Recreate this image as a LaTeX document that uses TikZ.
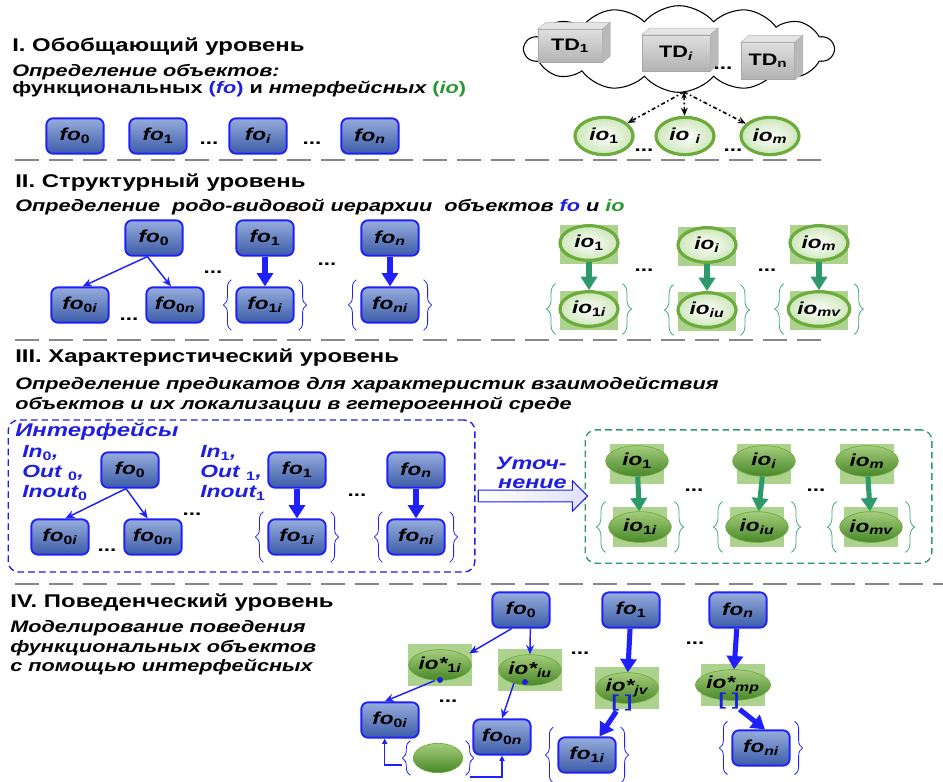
\documentclass[tikz,border=0pt]{standalone}
\usepackage{fontspec}
\setmainfont{Liberation Sans}[FakeStretch=1.3]
\usetikzlibrary{shapes.geometric,shapes.symbols,shapes.arrows,arrows.meta,decorations.pathreplacing,calc}
\definecolor{foline}{RGB}{32,32,250}
\definecolor{fotop}{RGB}{150,172,220}
\definecolor{fobot}{RGB}{60,92,168}
\definecolor{fotext}{RGB}{30,30,225}
\definecolor{iotext}{RGB}{40,150,50}
\definecolor{ioline}{RGB}{108,172,60}
\definecolor{iolight}{RGB}{205,230,185}
\definecolor{iosqc}{RGB}{172,210,142}
\definecolor{iotop}{RGB}{165,205,125}
\definecolor{iobot}{RGB}{72,135,40}
\definecolor{gnarr}{RGB}{46,154,108}
\definecolor{gnbrace}{RGB}{60,170,120}
\definecolor{sepgray}{RGB}{135,135,135}
\tikzset{
  title/.style={anchor=west, inner sep=0pt, font=\fontsize{13.8}{16}\selectfont\bfseries},
  subtitle/.style={anchor=west, inner sep=0pt, align=left, font=\fontsize{12.5}{14}\selectfont\bfseries\itshape},
  bluetext/.style={anchor=west, inner sep=0pt, align=left, text=fotext, font=\fontsize{13.2}{15}\selectfont\bfseries\itshape},
  fobox/.style={rectangle, rounded corners=5pt, draw=foline, line width=1.4pt, top color=fotop, bottom color=fobot, minimum width=43pt, minimum height=26.5pt, inner sep=1pt, font=\fontsize{13}{14}\selectfont\bfseries\itshape},
  ioring/.style={ellipse, draw=ioline, line width=2.4pt, inner color=white, outer color=iolight, minimum width=43.5pt, minimum height=26pt, inner sep=0pt, font=\fontsize{13}{14}\selectfont\bfseries\itshape},
  iofill/.style={ellipse, draw=ioline, line width=0.5pt, top color=iotop, bottom color=iobot, minimum width=47pt, minimum height=23pt, inner sep=0pt, font=\fontsize{13}{14}\selectfont\bfseries\itshape},
  iosq/.style={rectangle, fill=iosqc, minimum width=44pt, minimum height=29pt, inner sep=0pt},
  tdfront/.style={rectangle, draw=gray!70, line width=0.4pt, top color=gray!25, bottom color=gray!60, inner sep=0pt, font=\fontsize{12.5}{13}\selectfont\bfseries},
  dots/.style={inner sep=0pt, font=\fontsize{13}{13}\selectfont\bfseries},
  thinarr/.style={foline, line width=1.1pt, -{Stealth[length=7pt,width=6pt]}},
  smallarr/.style={foline, line width=0.8pt, -{Triangle[length=4pt,width=4pt]}},
  fatarr/.style={foline, line width=3.8pt, -{Triangle[length=10pt,width=12pt]}},
  greenarr/.style={gnarr, line width=3.8pt, -{Triangle[length=10pt,width=12pt]}},
  tdarr/.style={black, line width=1.2pt, dash dot, -{Stealth[length=6pt,width=5pt]}},
  fobrace/.style={foline, line width=0.6pt, decorate, decoration={brace, amplitude=6pt}},
  iobrace/.style={gnbrace, line width=0.6pt, decorate, decoration={brace, amplitude=7pt}},
  sepline/.style={sepgray, line width=2.2pt, dash pattern=on 18pt off 7.5pt},
  framebox/.style={rectangle, rounded corners=8pt, line width=1pt, dash pattern=on 5pt off 3pt}
}
\newcommand{\fonode}[4]{\node[fobox] (#1) at (#2,#3) {#4};}
\newcommand{\iosqnode}[6]{\node[iosq, #2] at (#4,#5) {}; \node[#1] (#3) at (#4,#5) {#6};}
\newcommand{\bracepair}[4]{%
  \draw[#1] ([xshift=-#4,yshift=-#3]#2.west) -- ([xshift=-#4,yshift=#3]#2.west);
  \draw[#1] ([xshift=#4,yshift=#3]#2.east) -- ([xshift=#4,yshift=-#3]#2.east);}
\newcommand{\tdbox}[6]{%
  \node[tdfront, minimum width=#4, minimum height=#5] (#1) at (#2,#3) {#6};
  \filldraw[fill=gray!20, draw=gray!60, line width=0.3pt] (#1.north west) -- ++(6pt,5pt) -- ([shift={(6pt,5pt)}]#1.north east) -- (#1.north east) -- cycle;
  \filldraw[fill=gray!55, draw=gray!60, line width=0.3pt] (#1.north east) -- ++(6pt,5pt) -- ([shift={(6pt,5pt)}]#1.south east) -- (#1.south east) -- cycle;}
\begin{document}
\begin{tikzpicture}[x=0.75pt,y=-0.75pt]
\useasboundingbox (0,0) rectangle (943,782);
% level I
\node[title] (t1) at (12,47) {I. Обобщающий уровень};
\node[subtitle, font=\fontsize{12.5}{12.75}\selectfont\bfseries\itshape] (s1) at (12,81) {Определение объектов:\\\textup{функциональных} \textcolor{fotext}{\textup{(}fo\textup{)}} \textup{и} нтерфейсных \textcolor{iotext}{\textup{(}io\textup{)}}};
\fonode{fa0}{75}{136}{fo\textsubscript{\upshape 0}}
\fonode{fa1}{158}{136}{fo\textsubscript{\upshape 1}}
\fonode{fai}{258}{136}{fo\textsubscript{i}}
\fonode{fan}{370}{136}{fo\textsubscript{n}}
\node[dots] (da1) at (209,143) {...};
\node[dots] (da2) at (312,143) {...};
% cloud
\node[cloud, cloud puffs=14, cloud puff arc=100, cloud ignores aspect, draw, line width=0.8pt, fill=white, minimum width=232pt, minimum height=65pt] (cloud) at (679,49) {};
\tdbox{td1}{570}{46}{48pt}{25pt}{TD\textsubscript{\upshape 1}}
\tdbox{tdi}{676}{53}{51pt}{27pt}{TD\textsubscript{\itshape i}}
\tdbox{tdn}{768}{61}{40pt}{28pt}{TD\textsubscript{\upshape n}}
\node[dots] (dc) at (723,68) {...};
\coordinate (cb) at (684,92);
\node[ioring, minimum height=28pt] (ia1) at (604,136) {io\textsubscript{\upshape 1}};
\node[ioring, minimum height=28pt] (iai) at (685,136) {io \textsubscript{i}};
\node[ioring, minimum height=28pt] (iam) at (770,136) {io\textsubscript{m}};
\draw[tdarr] (cb) -- (ia1);
\draw[tdarr, {Stealth[length=5pt,width=4pt]}-{Stealth[length=6pt,width=5pt]}] (cb) -- (iai);
\draw[tdarr] (cb) -- (iam);
\node[dots] (db1) at (644,150) {...};
\node[dots] (db2) at (733,150) {...};
\draw[sepline] (15,160) -- (825,160);
% level II
\node[title] (t2) at (15,183) {II. Структурный уровень};
\node[subtitle] (s2) at (15,207) {Определение \ родо-видовой иерархии \ объектов \textcolor{fotext}{fo} и \textcolor{iotext}{io}};
\fonode{fb0}{154}{238}{fo\textsubscript{\upshape 0}}
\fonode{fb1}{265}{238}{fo\textsubscript{\upshape 1}}
\fonode{fbn}{390}{238}{fo\textsubscript{n}}
\fonode{fb0i}{80}{305}{fo\textsubscript{\upshape 0\itshape i}}
\fonode{fb0n}{175}{305}{fo\textsubscript{\upshape 0\itshape n}}
\fonode{fb1i}{265}{305}{fo\textsubscript{\upshape 1\itshape i}}
\fonode{fbni}{390}{305}{fo\textsubscript{ni}}
\draw[thinarr] ([xshift=-5pt]fb0.south) -- ([xshift=2pt]fb0i.north);
\draw[thinarr] ([xshift=-5pt]fb0.south) -- ([xshift=-3pt]fb0n.north);
\draw[fatarr] (fb1) -- (fb1i);
\draw[fatarr] (fbn) -- (fbni);
\bracepair{fobrace}{fb1i}{19pt}{3pt}
\bracepair{fobrace}{fbni}{19pt}{3pt}
\node[dots] (dc1) at (213,272) {...};
\node[dots] (dc2) at (327,264) {...};
\node[dots] (dc3) at (129,319) {...};
% level II, io
\iosqnode{ioring}{yshift=-1pt}{ib1}{589}{243}{io\textsubscript{\upshape 1}}
\iosqnode{ioring}{yshift=-1pt}{ibi}{707}{245}{io\textsubscript{i}}
\iosqnode{ioring}{yshift=-1pt}{ibm}{819}{243}{io\textsubscript{m}}
\iosqnode{ioring}{yshift=-1pt}{ib1i}{589}{309}{io\textsubscript{\upshape 1\itshape i}}
\iosqnode{ioring}{yshift=-1pt}{ibiu}{707}{310}{io\textsubscript{iu}}
\iosqnode{ioring}{yshift=-1pt}{ibmv}{819}{309}{io\textsubscript{mv}}
\draw[greenarr] (ib1) -- (ib1i);
\draw[greenarr] (ibi) -- (ibiu);
\draw[greenarr] (ibm) -- (ibmv);
\bracepair{iobrace}{ib1i}{19pt}{2pt}
\bracepair{iobrace}{ibiu}{19pt}{2pt}
\bracepair{iobrace}{ibmv}{19pt}{2pt}
\node[dots] (dd1) at (644,270) {...};
\node[dots] (dd2) at (767,270) {...};
\draw[sepline] (15,340) -- (827,340);
% level III
\node[title] (t3) at (15,358) {III. Характеристический уровень};
\node[subtitle, font=\fontsize{12.5}{15}\selectfont\bfseries\itshape] (s3) at (15,395) {Определение предикатов для характеристик взаимодействия\\объектов и их локализации в гетерогенной среде};
\node[framebox, draw=fotext, minimum width=350pt, minimum height=114pt] (ifbox) at (241.5,496) {};
\node[framebox, draw=gnarr, minimum width=260pt, minimum height=100pt] (iobox) at (758.5,496.5) {};
\node[bluetext, font=\fontsize{13.8}{15}\selectfont\bfseries\itshape] (itf) at (15,432) {Интерфейсы};
\node[bluetext] (in0) at (22,473) {In\textsubscript{\upshape 0},\\Out \textsubscript{\upshape 0},\\Inout\textsubscript{\upshape 0}};
\node[bluetext] (in1) at (200,473) {In\textsubscript{\upshape 1},\\Out \textsubscript{\upshape 1},\\Inout\textsubscript{\upshape 1}};
\fonode{fc0}{130}{470}{fo\textsubscript{\upshape 0}}
\fonode{fc1}{297}{470}{fo\textsubscript{\upshape 1}}
\fonode{fcn}{416}{470}{fo\textsubscript{n}}
\fonode{fc0i}{60}{537}{fo\textsubscript{\upshape 0\itshape i}}
\fonode{fc0n}{153}{537}{fo\textsubscript{\upshape 0\itshape n}}
\fonode{fc1i}{297}{537}{fo\textsubscript{\upshape 1\itshape i}}
\fonode{fcni}{416}{537}{fo\textsubscript{ni}}
\draw[thinarr] ([xshift=-3pt]fc0.south) -- ([xshift=4pt]fc0i.north);
\draw[thinarr] ([xshift=-3pt]fc0.south) -- ([xshift=-4pt]fc0n.north);
\draw[fatarr] (fc1) -- (fc1i);
\draw[fatarr] (fcn) -- (fcni);
\bracepair{fobrace}{fc1i}{19pt}{3pt}
\bracepair{fobrace}{fcni}{19pt}{3pt}
\node[dots] (de1) at (192,514) {...};
\node[dots] (de2) at (107,550) {...};
\node[dots] (de3) at (357,495) {...};
% refinement
\node[single arrow, draw=fotext, line width=0.8pt, left color=white, right color=blue!12, minimum height=82pt, inner sep=4pt, single arrow head extend=7pt] (refine) at (530,496) {};
\node[bluetext, font=\fontsize{13.5}{14}\selectfont\bfseries\itshape, anchor=south east, align=right] (reftx) at (567,489) {Уточ-\\нение};
% level III, io
\iosqnode{iofill}{minimum width=41pt, minimum height=30pt, yshift=-2pt}{ic1}{637}{461}{io\textsubscript{\upshape 1}}
\iosqnode{iofill}{minimum width=41pt, minimum height=30pt, yshift=-2pt}{ici}{764}{461}{io\textsubscript{i}}
\iosqnode{iofill}{minimum width=41pt, minimum height=30pt, yshift=-2pt}{icm}{867}{461}{io\textsubscript{m}}
\iosqnode{iofill}{minimum width=41pt, minimum height=30pt}{ic1i}{640}{527}{io\textsubscript{\upshape 1\itshape i}}
\iosqnode{iofill}{minimum width=41pt, minimum height=30pt}{iciu}{757}{527}{io\textsubscript{iu}}
\iosqnode{iofill}{minimum width=41pt, minimum height=30pt}{icmv}{871}{527}{io\textsubscript{mv}}
\draw[greenarr] (ic1) -- (ic1i);
\draw[greenarr] (ici) -- (iciu);
\draw[greenarr] (icm) -- (icmv);
\bracepair{iobrace}{ic1i}{19pt}{2pt}
\bracepair{iobrace}{iciu}{19pt}{2pt}
\bracepair{iobrace}{icmv}{19pt}{2pt}
\node[dots] (df1) at (694,490) {...};
\node[dots] (df2) at (816,490) {...};
\draw[sepline] (15,584) -- (943,584);
% level IV
\node[title] (t4) at (10,603) {IV. Поведенческий уровень};
\node[subtitle, font=\fontsize{12.5}{14.6}\selectfont\bfseries\itshape] (s4) at (10,648) {Моделирование поведения\\функциональных объектов\\с помощью интерфейсных};
\fonode{fd0}{521}{610}{fo\textsubscript{\upshape 0}}
\fonode{fd1}{631}{610}{fo\textsubscript{\upshape 1}}
\fonode{fdn}{738}{610}{fo\textsubscript{n}}
\iosqnode{iofill}{minimum width=48pt, minimum height=31pt}{id1i}{440}{665}{\raisebox{2pt}{io*\textsubscript{\upshape 1\itshape i}}}
\iosqnode{iofill}{minimum width=48pt, minimum height=31pt}{idiu}{530}{670}{\raisebox{2pt}{io*\textsubscript{iu}}}
\iosqnode{iofill}{minimum width=48pt, minimum height=31pt}{idjv}{627}{688}{\raisebox{4pt}{io*\textsubscript{jv}}}
\iosqnode{iofill}{minimum width=48pt, minimum height=31pt}{idmp}{733}{685}{\raisebox{4pt}{io*\textsubscript{mp}}}
\fonode{fd0i}{390}{720}{fo\textsubscript{\upshape 0\itshape i}}
\fonode{fd0n}{502}{737}{fo\textsubscript{\upshape 0\itshape n}}
\fonode{fd1i}{587}{755}{fo\textsubscript{\upshape 1\itshape i}}
\fonode{fdni}{761}{748}{fo\textsubscript{ni}}
\node[iofill, minimum width=37pt, minimum height=22pt] (idb) at (438,758) {};
\fill[fotext] (440,680) circle (2.2pt);
\fill[fotext] (525,682) circle (2.2pt);
\node[text=fotext, inner sep=0pt, font=\fontsize{13}{13}\selectfont\bfseries] (bjv) at (622,703) {[\,\,]};
\node[text=fotext, inner sep=0pt, font=\fontsize{13}{13}\selectfont\bfseries] (bmp) at (729,701) {[\,\,]};
\draw[thinarr] ([xshift=-7pt]fd0.south) -- ([xshift=22pt,yshift=-3pt]id1i.north);
\draw[thinarr] ([xshift=7pt]fd0.south) -- (idiu.north);
\draw[thinarr] ([xshift=-4pt]id1i.south) -- ([xshift=-4pt]fd0i.north);
\draw[thinarr] ([xshift=-12pt,yshift=2pt]idiu.south) -- (fd0n.north);
\draw[fatarr] (fd1) -- (idjv);
\draw[fatarr] (bjv) -- (fd1i);
\draw[fatarr] (fdn) -- (idmp);
\draw[fatarr] (bmp) -- ([xshift=3pt]fdni.north);
\bracepair{fobrace}{fd1i}{21pt}{3pt}
\bracepair{fobrace}{fdni}{20pt}{3pt}
\bracepair{fobrace}{idb}{13pt}{2pt}
\coordinate (bl) at (402,765);
\coordinate (br) at (470,777);
\draw[smallarr] (bl) -| ([xshift=-4pt]fd0i.south);
\draw[smallarr] (br) -| (fd0n.south);
\node[dots] (dg1) at (580,653) {...};
\node[dots] (dg2) at (448,701) {...};
\node[dots] (dg3) at (695,643) {...};
\end{tikzpicture}
\end{document}
